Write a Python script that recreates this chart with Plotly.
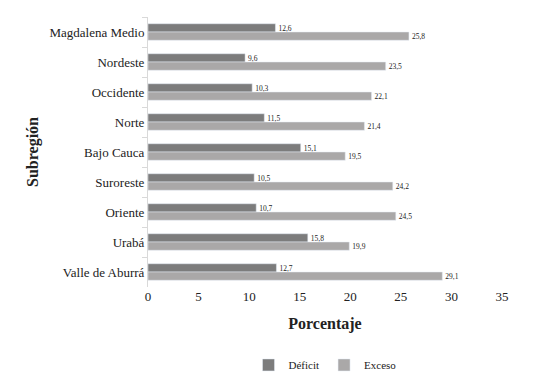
import plotly.graph_objects as go

categories = ["Magdalena Medio", "Nordeste", "Occidente", "Norte", "Bajo Cauca",
              "Suroreste", "Oriente", "Urabá", "Valle de Aburrá"]
deficit = [12.6, 9.6, 10.3, 11.5, 15.1, 10.5, 10.7, 15.8, 12.7]
exceso = [25.8, 23.5, 22.1, 21.4, 19.5, 24.2, 24.5, 19.9, 29.1]
x_ticks = [0, 5, 10, 15, 20, 25, 30, 35]

def fmt(v):
    return f"{v:.1f}".replace(".", ",")

FF = "Liberation Serif"

fig = go.Figure()
fig.add_trace(go.Bar(
    y=categories, x=deficit, name="Déficit", orientation="h",
    marker=dict(color="#7c7c7c"),
    text=[fmt(v) for v in deficit], textposition="outside",
    textfont=dict(size=10, color="#222", family=FF), cliponaxis=False,
))
fig.add_trace(go.Bar(
    y=categories, x=exceso, name="Exceso", orientation="h",
    marker=dict(color="#aaa8a8"),
    text=[fmt(v) for v in exceso], textposition="outside",
    textfont=dict(size=10, color="#222", family=FF), cliponaxis=False,
))

# page body has an 8px default margin; margins compensate for it
fig.update_layout(
    width=535, height=391,
    margin=dict(l=140, r=41, t=9, b=112),
    paper_bgcolor="white", plot_bgcolor="white",
    barmode="group", bargap=0.45, bargroupgap=0,
    font=dict(family=FF, color="#222", size=12),
    showlegend=True,
    legend=dict(orientation="h", x=0.5, xanchor="center", y=-0.235, yanchor="top",
                font=dict(size=11, family=FF), traceorder="normal",
                itemwidth=30),
)
fig.update_xaxes(
    range=[0, 35], tickvals=x_ticks, showgrid=False, zeroline=False,
    showline=False, ticks="", tickfont=dict(size=13, family=FF),
    automargin=False,
    title=dict(text="<b>Porcentaje</b>", font=dict(size=16, family=FF), standoff=14),
)
fig.update_yaxes(
    autorange="reversed", showgrid=False, showline=True, linecolor="#d9d9d9",
    linewidth=1, ticks="outside", tickcolor="#d9d9d9", ticklen=5,
    tickson="boundaries", tickfont=dict(size=13, family=FF),
    automargin=False,
    title=dict(text="<b>Subregión</b>", font=dict(size=16, family=FF), standoff=6),
)

fig.write_html("out.html")
